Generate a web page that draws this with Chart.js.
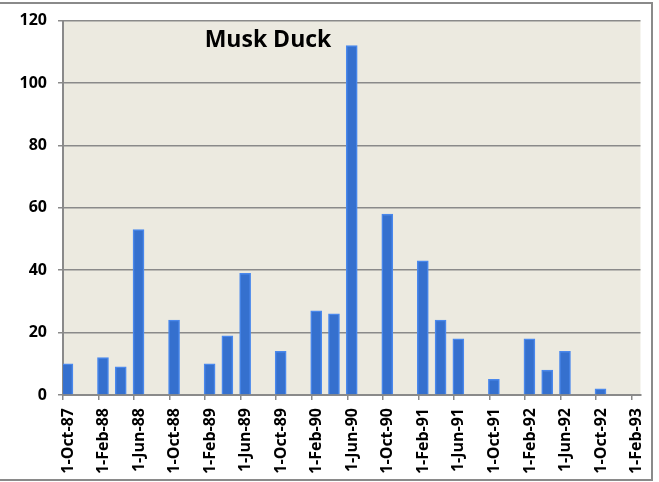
<!DOCTYPE html>
<html>
<head>
<meta charset="utf-8">
<script src="https://cdn.jsdelivr.net/npm/chart.js@4/dist/chart.umd.min.js"></script>
<style>
html,body{margin:0;padding:0;background:#fff;}
#wrap{width:659px;height:482px;position:relative;}
</style>
</head>
<body>
<div id="wrap"><canvas id="c" width="659" height="482"></canvas></div>
<script>
// Survey dates (year-month) and Musk Duck counts
const surveyDates = ['1987-10','1988-02','1988-04','1988-06','1988-10','1989-02','1989-04','1989-06','1989-10','1990-02','1990-04','1990-06','1990-10','1991-02','1991-04','1991-06','1991-10','1992-02','1992-04','1992-06','1992-10'];
const duckCounts  = [10,12,9,53,24,10,19,39,14,27,26,112,58,43,24,18,5,18,8,14,2];
const tickLabels  = ['1-Oct-87','1-Feb-88','1-Jun-88','1-Oct-88','1-Feb-89','1-Jun-89','1-Oct-89','1-Feb-90','1-Jun-90','1-Oct-90','1-Feb-91','1-Jun-91','1-Oct-91','1-Feb-92','1-Jun-92','1-Oct-92','1-Feb-93'];
const yTicks = [0,20,40,60,80,100,120];
const chartTitle = 'Musk Duck';

const startYear = 1987, startMonth = 10;
function monthIndex(s){const [y,m]=s.split('-').map(Number);return (y-startYear)*12+(m-startMonth);}
const points = surveyDates.map((d,i)=>({x:monthIndex(d)+0.5,y:duckCounts[i]}));

const FONT = '"Open Sans", Lato, sans-serif';

const framePlugin = {
  id:'frame',
  beforeDraw(chart){
    const {ctx, chartArea:a} = chart;
    ctx.save();
    ctx.fillStyle = '#ECEAE0';
    ctx.fillRect(a.left, a.top, a.right-a.left, a.bottom-a.top);
    ctx.restore();
  },
  afterDraw(chart){
    const {ctx} = chart;
    ctx.save();
    ctx.strokeStyle = '#8a8a8a';
    ctx.lineWidth = 2;
    ctx.beginPath();
    ctx.moveTo(0,3); ctx.lineTo(652,3); ctx.lineTo(652,480); ctx.lineTo(0,480);
    ctx.stroke();
    ctx.fillStyle = '#000';
    ctx.font = 'bold 23px ' + FONT;
    ctx.textAlign = 'center';
    ctx.textBaseline = 'middle';
    ctx.fillText(chartTitle, 268, 40);
    ctx.restore();
  }
};

new Chart(document.getElementById('c'), {
  type:'bar',
  data:{
    datasets:[{
      data:points,
      backgroundColor:'#3570CE',
      borderColor:'#4A88EC',
      borderWidth:1.5,
      barThickness:11
    }]
  },
  options:{
    responsive:false,
    animation:false,
    layout:{padding:{left:0,right:13,top:15,bottom:0}},
    plugins:{legend:{display:false},tooltip:{enabled:false},title:{display:false}},
    scales:{
      x:{
        type:'linear',
        offset:false,
        min:0, max:65,
        afterBuildTicks(scale){
          scale.ticks = tickLabels.map((l,i)=>({value:i*4}));
        },
        afterFit(scale){scale.height = 87;},
        grid:{offset:false,drawOnChartArea:false,drawTicks:true,tickLength:5,color:'#8a8a8a',lineWidth:1.5},
        border:{display:true,color:'#8a8a8a',width:2},
        ticks:{
          autoSkip:false,maxRotation:90,minRotation:90,padding:8,labelOffset:5,
          color:'#000',font:{family:FONT,weight:'bold',size:16},
          callback:(v)=>tickLabels[Math.round(v/4)]
        }
      },
      y:{
        min:0,max:120,
        afterBuildTicks(scale){scale.ticks = yTicks.map(v=>({value:v}));},
        afterFit(scale){scale.width = 63;},
        grid:{color:'#8a8a8a',lineWidth:1.5,tickLength:5},
        border:{display:true,color:'#8a8a8a',width:2},
        ticks:{padding:11,color:'#000',font:{family:FONT,weight:'bold',size:16}}
      }
    }
  },
  plugins:[framePlugin]
});
</script>
</body>
</html>
